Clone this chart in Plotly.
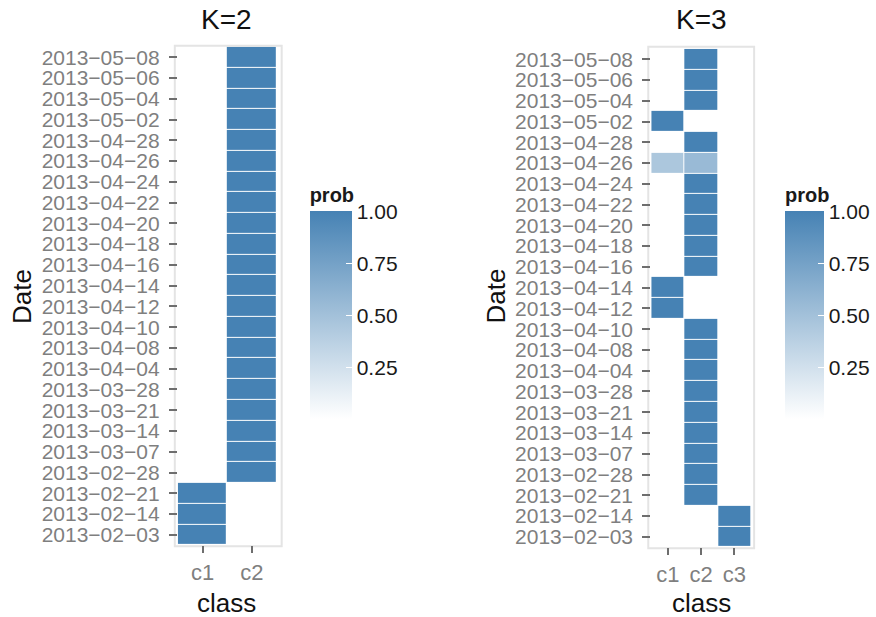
import plotly.graph_objects as go

# Canvas size (px) used to place panels in paper coordinates
W, H = 876, 617

# ---- data -----------------------------------------------------------------
dates = [
    "2013-02-03", "2013-02-14", "2013-02-21", "2013-02-28", "2013-03-07",
    "2013-03-14", "2013-03-21", "2013-03-28", "2013-04-04", "2013-04-08",
    "2013-04-10", "2013-04-12", "2013-04-14", "2013-04-16", "2013-04-18",
    "2013-04-20", "2013-04-22", "2013-04-24", "2013-04-26", "2013-04-28",
    "2013-05-02", "2013-05-04", "2013-05-06", "2013-05-08",
]
classes_k2 = ["c1", "c2"]
classes_k3 = ["c1", "c2", "c3"]

# class membership probabilities, one value per date (oldest first)
k2_c1 = [1, 1, 1, 0, 0, 0, 0, 0, 0, 0, 0, 0, 0, 0, 0, 0, 0, 0, 0, 0, 0, 0, 0, 0]
k2_c2 = [0, 0, 0, 1, 1, 1, 1, 1, 1, 1, 1, 1, 1, 1, 1, 1, 1, 1, 1, 1, 1, 1, 1, 1]

k3_c1 = [0, 0, 0, 0, 0, 0, 0, 0, 0, 0, 0, 1, 1, 0, 0, 0, 0, 0, 0.45, 0, 1, 0, 0, 0]
k3_c2 = [0, 0, 1, 1, 1, 1, 1, 1, 1, 1, 1, 0, 0, 1, 1, 1, 1, 1, 0.55, 1, 0, 1, 1, 1]
k3_c3 = [1, 1, 0, 0, 0, 0, 0, 0, 0, 0, 0, 0, 0, 0, 0, 0, 0, 0, 0, 0, 0, 0, 0, 0]

prob_ticks = [0.25, 0.50, 0.75, 1.00]

# ---- helpers --------------------------------------------------------------
def fx(p):
    return p / W


def fy(p):
    return 1 - p / H


FONT = "Liberation Sans, Arial, sans-serif"
GREY_TXT = "#7f7f7f"
GREY_TICK = "#6e6e6e"
SCALE = [[0, "#ffffff"], [1, "steelblue"]]

z_k2 = [list(r) for r in zip(k2_c1, k2_c2)]
z_k3 = [list(r) for r in zip(k3_c1, k3_c2, k3_c3)]
date_text = [d.replace("-", "\u2212") for d in dates]

fig = go.Figure()
fig.add_trace(go.Heatmap(x=classes_k2, y=dates, z=z_k2, coloraxis="coloraxis",
                         xgap=1, ygap=1, xaxis="x", yaxis="y",
                         hovertemplate="%{y} %{x}: %{z}<extra></extra>"))
fig.add_trace(go.Heatmap(x=classes_k3, y=dates, z=z_k3, coloraxis="coloraxis2",
                         xgap=1, ygap=1, xaxis="x2", yaxis="y2",
                         hovertemplate="%{y} %{x}: %{z}<extra></extra>"))


def xax(dom, n, anchor):
    return dict(domain=[fx(dom[0]), fx(dom[1])], anchor=anchor, type="category",
                range=[-0.5, n - 0.5], showgrid=False, zeroline=False,
                showline=False, ticks="outside", ticklen=7, tickwidth=2,
                tickcolor=GREY_TICK, ticklabelstandoff=0,
                tickfont=dict(family=FONT, size=22, color=GREY_TXT),
                fixedrange=True)


def yax(dom, anchor):
    return dict(domain=[fy(dom[1]), fy(dom[0])], anchor=anchor, type="category",
                categoryorder="array", categoryarray=dates,
                range=[-0.5, len(dates) - 0.5], showgrid=False, zeroline=False,
                showline=False, ticks="outside", ticklen=8, tickwidth=2,
                tickcolor=GREY_TICK, tickvals=dates, ticktext=date_text,
                ticklabelstandoff=5,
                tickfont=dict(family=FONT, size=21, color=GREY_TXT),
                fixedrange=True)


def cbar(xpx, thick):
    return dict(
        x=fx(xpx), xanchor="left", xpad=0, y=fy(184), yanchor="top", ypad=0,
        len=235, lenmode="pixels", thickness=thick, thicknessmode="pixels",
        outlinewidth=0, tickvals=prob_ticks, tickformat=".2f",
        ticks="inside", tickcolor="white", ticklen=6, tickwidth=1,
        tickfont=dict(family=FONT, size=21, color="#1a1a1a"),
        title=dict(text="<b>prob</b>", side="top",
                   font=dict(family=FONT, size=20, color="#1a1a1a")),
    )


annotations = []
for label, cx, dx in (("K=2", 227, 22), ("K=3", 702, 497)):
    annotations.append(dict(text=label, x=fx(cx), y=fy(19), xref="paper", yref="paper",
                            xanchor="center", yanchor="middle", showarrow=False,
                            font=dict(family=FONT, size=28, color="#111")))
    annotations.append(dict(text="class", x=fx(cx), y=fy(604), xref="paper", yref="paper",
                            xanchor="center", yanchor="middle", showarrow=False,
                            font=dict(family=FONT, size=26, color="#111")))
    annotations.append(dict(text="Date", x=fx(dx), y=fy(296), xref="paper", yref="paper",
                            xanchor="center", yanchor="middle", textangle=-90,
                            showarrow=False,
                            font=dict(family=FONT, size=26, color="#111")))

shapes = []
for x0, x1, y0, y1 in ((175, 282, 45, 547), (649, 755, 46, 549)):
    shapes.append(dict(type="rect", xref="paper", yref="paper",
                       x0=fx(x0), x1=fx(x1), y0=fy(y1), y1=fy(y0),
                       line=dict(color="#e4e4e4", width=2), layer="below"))

fig.update_layout(
    width=W, height=H,
    margin=dict(l=0, r=0, t=0, b=0),
    paper_bgcolor="white", plot_bgcolor="white",
    font=dict(family=FONT),
    xaxis=xax((178, 277), 2, "y"),
    yaxis=yax((46, 546), "x"),
    xaxis2=xax((652, 752), 3, "y2"),
    yaxis2=yax((48, 548), "x2"),
    coloraxis=dict(colorscale=SCALE, cmin=0, cmax=1, colorbar=cbar(310, 42)),
    coloraxis2=dict(colorscale=SCALE, cmin=0, cmax=1, colorbar=cbar(786, 39)),
    annotations=annotations,
    shapes=shapes,
    showlegend=False,
)

fig.write_html("out.html")
